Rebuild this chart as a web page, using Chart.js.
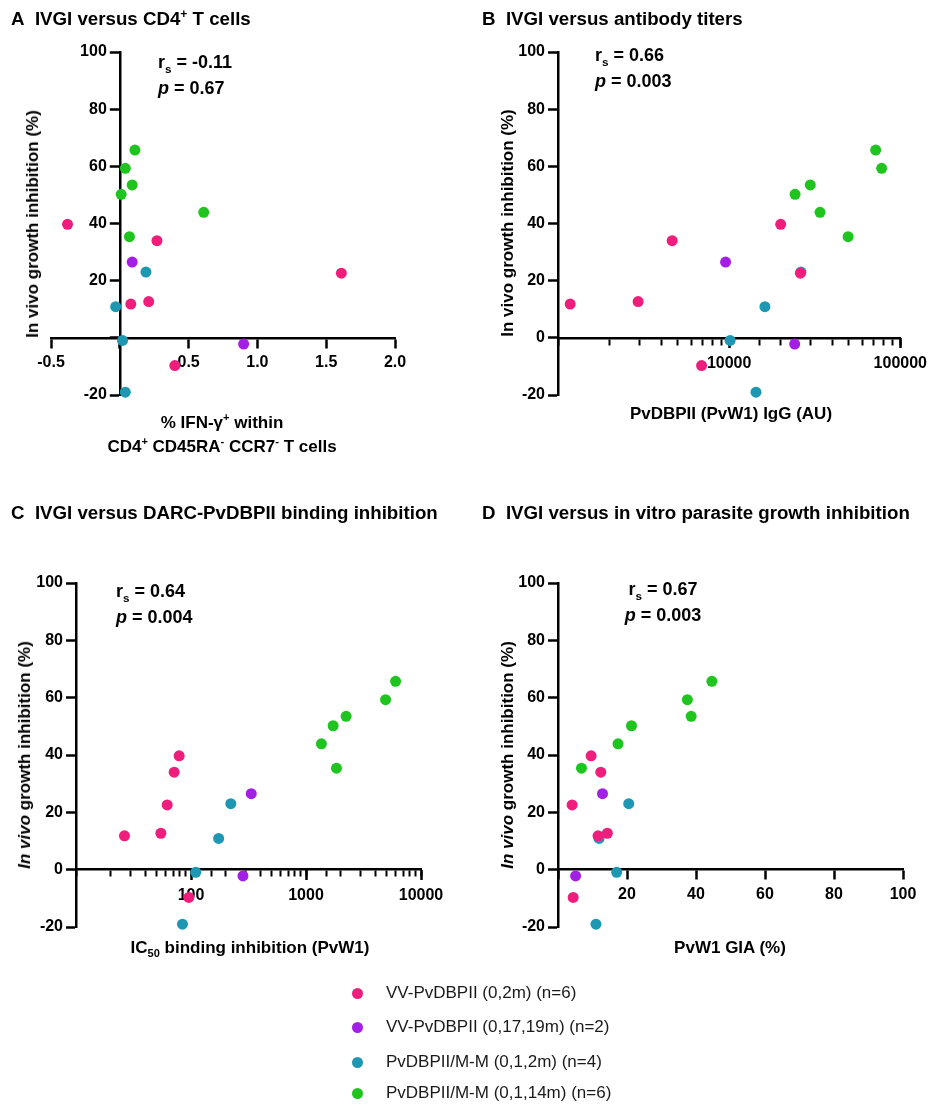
<!DOCTYPE html>
<html>
<head>
<meta charset="utf-8">
<script src="https://cdn.jsdelivr.net/npm/chart.js@4.4.0/dist/chart.umd.min.js"></script>
<style>
  html, body { margin: 0; padding: 0; background: #fff; }
  #page { position: relative; width: 933px; height: 1106px; overflow: hidden;
          font-family: 'Liberation Sans', Arial, sans-serif; color: #000; }
  canvas { position: absolute; left: 0; top: 0; }
  .t { position: absolute; white-space: nowrap; font-weight: bold; }
  .title { font-size: 18.7px; line-height: 20px; }
  .ann { font-size: 18px; line-height: 26px; }
  .xt { font-size: 17px; line-height: 20px; transform: translate(-50%, -50%); text-align: center; }
  .yt { font-size: 17px; line-height: 20px; transform: translate(-50%, -50%) rotate(-90deg); }
  .leg { position: absolute; font-size: 17px; line-height: 20px; white-space: nowrap; color: #1a1a1a; }
  .dot { position: absolute; width: 11px; height: 11px; border-radius: 50%; }
  sup, sub { font-size: 65%; line-height: 0; }
</style>
</head>
<body>
<div id="page">
  <canvas id="chartA" width="933" height="1106"></canvas>
  <canvas id="chartB" width="933" height="1106"></canvas>
  <canvas id="chartC" width="933" height="1106"></canvas>
  <canvas id="chartD" width="933" height="1106"></canvas>

  <!-- titulos dos paineis -->
  <div class="t title" style="left:11px;top:9px">A&nbsp;&nbsp;IVGI versus CD4<sup>+</sup> T cells</div>
  <div class="t title" style="left:482px;top:9px">B&nbsp;&nbsp;IVGI versus antibody titers</div>
  <div class="t title" style="left:11px;top:503px">C&nbsp;&nbsp;IVGI versus DARC-PvDBPII binding inhibition</div>
  <div class="t title" style="left:482px;top:503px">D&nbsp;&nbsp;IVGI versus in vitro parasite growth inhibition</div>

  <!-- correlacoes -->
  <div class="t ann" style="left:158px;top:49px">r<sub>s</sub> = -0.11<br><i>p</i> = 0.67</div>
  <div class="t ann" style="left:595px;top:42px">r<sub>s</sub> = 0.66<br><i>p</i> = 0.003</div>
  <div class="t ann" style="left:116px;top:578px">r<sub>s</sub> = 0.64<br><i>p</i> = 0.004</div>
  <div class="t ann" style="left:663px;top:576px;transform:translateX(-50%);text-align:center">r<sub>s</sub> = 0.67<br><i>p</i> = 0.003</div>

  <!-- titulos dos eixos -->
  <div class="t yt" style="left:33px;top:224px">In vivo growth inhibition (%)</div>
  <div class="t yt" style="left:508px;top:223px">In vivo growth inhibition (%)</div>
  <div class="t yt" style="left:25px;top:755px"><i>In vivo</i> growth inhibition (%)</div>
  <div class="t yt" style="left:508px;top:755px"><i>In vivo</i> growth inhibition (%)</div>

  <div class="t xt" style="left:222px;top:423px">% IFN-γ<sup>+</sup> within</div>
  <div class="t xt" style="left:222px;top:447px">CD4<sup>+</sup> CD45RA<sup>-</sup> CCR7<sup>-</sup> T cells</div>
  <div class="t xt" style="left:731px;top:414px">PvDBPII (PvW1) IgG (AU)</div>
  <div class="t xt" style="left:250px;top:948px">IC<sub>50</sub> binding inhibition (PvW1)</div>
  <div class="t xt" style="left:730px;top:948px">PvW1 GIA (%)</div>

  <div id="legend"></div>
</div>

<script>
// grupos de vacinacao
const GROUPS = ['VV-PvDBPII (0,2m) (n=6)', 'VV-PvDBPII (0,17,19m) (n=2)', 'PvDBPII/M-M (0,1,2m) (n=4)', 'PvDBPII/M-M (0,1,14m) (n=6)'];
const COLORS = ['#ef1e7d', '#a41fe5', '#1e98b2', '#1fc41f'];

// IVGI (%) por grupo (eixo y, igual nos quatro paineis)
const IVGI_VV_2M = [39.7, 34.0, 22.6, 12.7, 11.8, -9.7];
const IVGI_VV_19M = [26.5, -2.2];
const IVGI_MM_2M = [23.0, 10.9, -0.9, -19.0];
const IVGI_MM_14M = [65.7, 59.3, 53.5, 50.2, 43.9, 35.4];

// A: % IFN-g+ CD4 T cells
const IFNG_VV_2M = [-0.38, 0.27, 1.61, 0.21, 0.08, 0.40];
const IFNG_VV_19M = [0.09, 0.90];
const IFNG_MM_2M = [0.19, -0.03, 0.02, 0.04];
const IFNG_MM_14M = [0.11, 0.04, 0.09, 0.01, 0.61, 0.07];

// B: IgG (AU)
const IGG_VV_2M = [20000, 4645, 26060, 2938, 1178, 6900];
const IGG_VV_19M = [9530, 24150];
const IGG_MM_2M = [26300, 16180, 10130, 14350];
const IGG_MM_14M = [71770, 77800, 29780, 24270, 33960, 49550];

// C: IC50 binding inhibition
const IC50_VV_2M = [78.9, 71.4, 62.1, 54.7, 26.4, 95.7];
const IC50_VV_19M = [334, 283];
const IC50_MM_2M = [222, 174, 110, 84.3];
const IC50_MM_14M = [6012, 4920, 2233, 1722, 1361, 1840];

// D: GIA (%)
const GIA_VV_2M = [9.6, 12.4, 4.1, 14.3, 11.6, 4.4];
const GIA_VV_19M = [12.9, 5.1];
const GIA_MM_2M = [20.5, 11.9, 17.0, 11.0];
const GIA_MM_14M = [44.6, 37.5, 38.6, 21.3, 17.4, 6.8];

// rotulos dos eixos
const Y_TICKS = [-20, 0, 20, 40, 60, 80, 100];
const A_TICKS = [-0.5, 0, 0.5, 1.0, 1.5, 2.0];
const B_TICKS = [10000, 100000];
const C_TICKS = [100, 1000, 10000];
const D_TICKS = [0, 20, 40, 60, 80, 100];

const IVGI = [IVGI_VV_2M, IVGI_VV_19M, IVGI_MM_2M, IVGI_MM_14M];
const PAGE_W = 933, PAGE_H = 1106;
const tickFont = { family: "'Liberation Sans', Arial, sans-serif", size: 16, weight: 'bold' };

function makeSets(xLists) {
  return GROUPS.map((g, i) => ({
    label: g,
    data: xLists[i].map((x, j) => ({ x: x, y: IVGI[i][j] })),
    backgroundColor: COLORS[i],
    borderWidth: 0,
    pointRadius: 5.5,
    pointHoverRadius: 5.5,
    clip: false
  }));
}

function yAxis(hideZero) {
  return {
    type: 'linear', min: -20, max: 100, position: 'left',
    afterFit: s => { s.width = 0; },
    afterBuildTicks: s => { s.ticks = Y_TICKS.map(v => ({ value: v })); },
    border: { display: true, color: '#000', width: 2.5 },
    grid: { drawOnChartArea: false, drawTicks: true, tickLength: 10, tickWidth: 2.5, tickColor: '#000' },
    ticks: { autoSkip: false, color: '#000', font: tickFont, padding: 3,
             callback: v => (hideZero && v === 0) ? '' : String(v) }
  };
}

function xLinear(min, max, ticks, fmt) {
  return {
    type: 'linear', min: min, max: max, position: { y: 0 },
    afterFit: s => { s.height = 0; },
    afterBuildTicks: s => { s.ticks = ticks.map(v => ({ value: v })); },
    border: { display: true, color: '#000', width: 2.5 },
    grid: { drawOnChartArea: false, drawTicks: true, tickLength: 9, tickWidth: 2.5, tickColor: '#000' },
    ticks: { autoSkip: false, maxRotation: 0, color: '#000', font: tickFont, padding: 6,
             callback: v => v === 0 ? '' : fmt(v) }
  };
}

// eixo log: 'x' com marcas menores, 'xMaj' com as decadas e rotulos
function xLogPair(min, max, majors) {
  return {
    x: {
      type: 'logarithmic', min: min, max: max, position: { y: 0 },
      afterFit: s => { s.height = 0; },
      border: { display: true, color: '#000', width: 2.5 },
      grid: { drawOnChartArea: false, drawTicks: true, tickLength: 6, tickWidth: 2, tickColor: '#000' },
      ticks: { display: false, autoSkip: false }
    },
    xMaj: {
      type: 'logarithmic', min: min, max: max, position: { y: 0 },
      afterFit: s => { s.height = 0; },
      afterBuildTicks: s => { s.ticks = majors.map(v => ({ value: v, major: true })); },
      border: { display: false },
      grid: { drawOnChartArea: false, drawTicks: true, tickLength: 10, tickWidth: 2.5, tickColor: '#000' },
      ticks: { autoSkip: false, maxRotation: 0, color: '#000', font: tickFont, padding: 6,
               callback: v => String(v) }
    }
  };
}

// coloca o eixo y onde ele cruza o eixo x (e da largura para os rotulos)
const yCross = {
  id: 'yCross',
  afterLayout(chart, args, opts) {
    const px = opts.at === undefined ? chart.chartArea.left : chart.scales.x.getPixelForValue(opts.at);
    chart.scales.y.right = px;
    chart.scales.y.left = px - 70;
  }
};

function makePanel(id, area, xLists, scales, crossAt) {
  const ctx = document.getElementById(id).getContext('2d');
  return new Chart(ctx, {
    type: 'scatter',
    data: { datasets: makeSets(xLists) },
    options: {
      responsive: false,
      animation: false,
      devicePixelRatio: 1,
      layout: { padding: { left: area[0], top: area[1], right: PAGE_W - area[2], bottom: PAGE_H - area[3] } },
      plugins: { legend: { display: false }, tooltip: { enabled: false }, yCross: { at: crossAt } },
      events: [],
      scales: scales
    },
    plugins: [yCross]
  });
}

// Painel A
makePanel('chartA', [51, 52, 395, 395],
  [IFNG_VV_2M, IFNG_VV_19M, IFNG_MM_2M, IFNG_MM_14M],
  { x: xLinear(-0.5, 2.0, A_TICKS, v => v.toFixed(1)), y: yAxis(true) }, 0);

// Painel B
makePanel('chartB', [558, 52, 903, 395],
  [IGG_VV_2M, IGG_VV_19M, IGG_MM_2M, IGG_MM_14M],
  Object.assign(xLogPair(1000, 100000, B_TICKS), { y: yAxis(false) }));

// Painel C
makePanel('chartC', [76, 583, 421, 927],
  [IC50_VV_2M, IC50_VV_19M, IC50_MM_2M, IC50_MM_14M],
  Object.assign(xLogPair(10, 10000, C_TICKS), { y: yAxis(false) }));

// Painel D
makePanel('chartD', [558, 583, 903, 927],
  [GIA_VV_2M, GIA_VV_19M, GIA_MM_2M, GIA_MM_14M],
  { x: xLinear(0, 100, D_TICKS, v => String(v)), y: yAxis(false) });

// Legenda
const legendY = [993, 1027, 1062, 1093];
const legend = document.getElementById('legend');
GROUPS.forEach((g, i) => {
  const dot = document.createElement('div');
  dot.className = 'dot';
  dot.style.left = (357 - 5.5) + 'px';
  dot.style.top = (legendY[i] - 5.5) + 'px';
  dot.style.background = COLORS[i];
  legend.appendChild(dot);
  const txt = document.createElement('div');
  txt.className = 'leg';
  txt.style.left = '386px';
  txt.style.top = (legendY[i] - 10) + 'px';
  txt.textContent = g;
  legend.appendChild(txt);
});
</script>
</body>
</html>
